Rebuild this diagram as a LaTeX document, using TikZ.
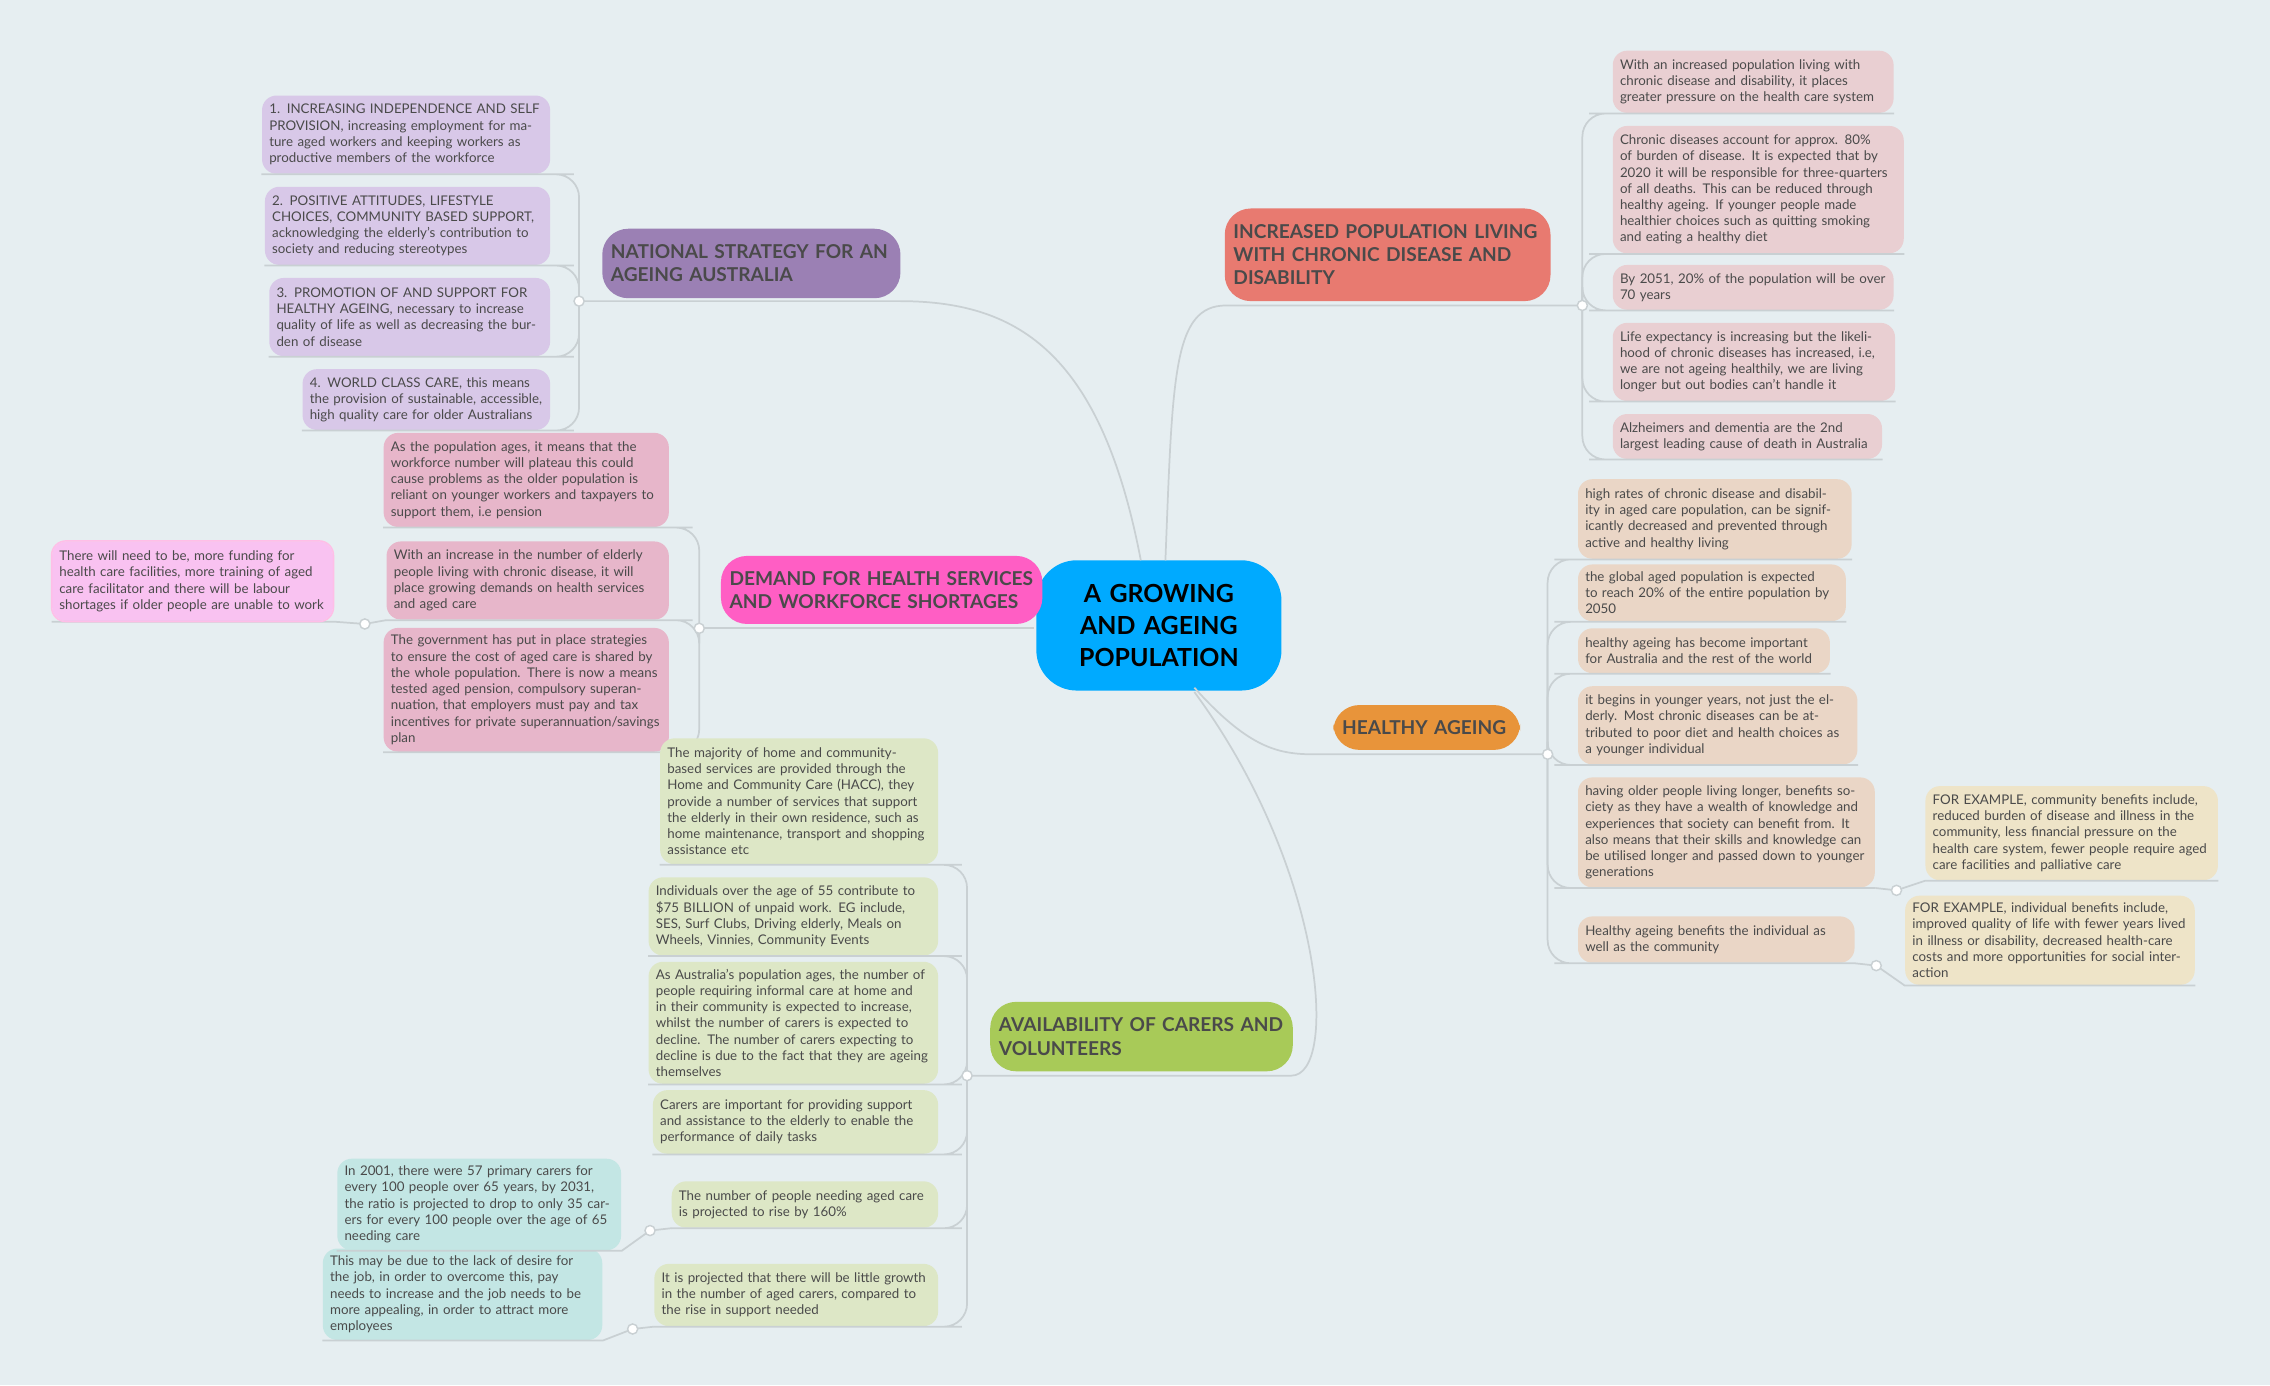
\documentclass[tikz,border=0pt]{standalone}
\usepackage{fontspec}
\setmainfont{Lato}
\usetikzlibrary{calc}
\definecolor{bg}{HTML}{E6EEF1}
\definecolor{ln}{HTML}{C9D0D3}
\definecolor{tx}{HTML}{4A4A4A}
\definecolor{cc}{HTML}{00AAFF}
\definecolor{pu}{HTML}{9B80B4}\definecolor{pul}{HTML}{D8C8E8}
\definecolor{re}{HTML}{E87A70}\definecolor{rel}{HTML}{E9CFD2}
\definecolor{pk}{HTML}{FF5EC4}\definecolor{pkl}{HTML}{E7B6CA}\definecolor{pkx}{HTML}{F9C2F1}
\definecolor{or}{HTML}{E8943A}\definecolor{orl}{HTML}{EAD6C6}\definecolor{ye}{HTML}{EEE4C8}
\definecolor{gr}{HTML}{A8CA58}\definecolor{grl}{HTML}{DDE7C6}\definecolor{te}{HTML}{C3E6E4}
\tikzset{
 leafbox/.style={rounded corners=5pt,inner sep=2.5pt,align=left,text=tx,font=\fontsize{4.6}{5.6}\selectfont},
 topic/.style={rounded corners=9pt,inner sep=3pt,align=left,text=tx,font=\bfseries\fontsize{6.6}{8}\selectfont},
 conn/.style={draw=ln,line width=0.6pt,rounded corners=8pt},
 junc/.style={circle,draw=ln,fill=white,line width=0.5pt,inner sep=0pt,minimum size=3.5pt}
}
\newcommand\mmbox[8]{\pgfmathsetmacro\tw{(#4-#2-10)*0.5}\pgfmathsetmacro\th{(#5-#3)*0.5}%
 \node[#8,fill=#6,text width=\tw pt,minimum height=\th pt] (#1) at ({(#2+#4)/2},{(#3+#5)/2}) {#7};}
\begin{document}
\begin{tikzpicture}[x=0.5pt,y=-0.5pt]
\fill[bg] (0,0) rectangle (1568,957);
\useasboundingbox (0,0) rectangle (1568,957);
% junctions
\coordinate (jn) at (400,208);
\coordinate (jc) at (1093,211);
\coordinate (jd) at (483,434);
\coordinate (jh) at (1069,521);
\coordinate (ja) at (668,743);
\coordinate (jx) at (252,431);
\coordinate (je) at (1310,615);
\coordinate (jf) at (1296,667);
\coordinate (jt1) at (449,850);
\coordinate (jt2) at (437,918);
% center
\node[rounded corners=14pt,fill=cc,text=black,align=center,font=\bfseries\fontsize{8.6}{11}\selectfont,text width=78pt,minimum height=45pt] (C) at (800.5,432) {A GROWING AND AGEING POPULATION};
% topics
\mmbox{ns}{417}{158}{621}{206}{pu}{NATIONAL STRATEGY FOR AN AGEING AUSTRALIA}{topic}
\mmbox{ip}{847}{144}{1070}{208}{re}{INCREASED POPULATION LIVING WITH CHRONIC DISEASE AND DISABILITY}{topic}
\mmbox{dm}{499}{384}{719}{431}{pk}{DEMAND FOR HEALTH SERVICES AND WORKFORCE SHORTAGES}{topic}
\mmbox{ha}{922}{487}{1049}{518}{or}{HEALTHY AGEING}{topic}
\mmbox{av}{685}{692}{892}{740}{gr}{AVAILABILITY OF CARERS AND VOLUNTEERS}{topic}
% main connectors
\draw[conn,rounded corners=0pt] (788,387) .. controls (760,240) and (700,208) .. (621,208) -- (jn);
\draw[conn,rounded corners=0pt] (805,387) .. controls (810,260) and (810,211) .. (847,211) -- (jc);
\draw[conn,rounded corners=0pt] (714,434) -- (jd);
\draw[conn,rounded corners=0pt] (825,475) .. controls (870,525) and (890,521) .. (922,521) -- (jh);
\draw[conn,rounded corners=0pt] (825,478) .. controls (915,600) and (925,743) .. (892,743) -- (ja);
\begin{scope}[on background layer/.style={}]\end{scope}
% national strategy leaves
\mmbox{n1}{181}{66}{380}{120}{pul}{1. INCREASING INDEPENDENCE AND SELF PROVISION, increasing employment for mature aged workers and keeping workers as productive members of the workforce}{leafbox}
\mmbox{n2}{183}{129}{380}{183}{pul}{2. POSITIVE ATTITUDES, LIFESTYLE CHOICES, COMMUNITY BASED SUPPORT, acknowledging the elderly's contribution to society and reducing stereotypes}{leafbox}
\mmbox{n3}{186}{192}{380}{246}{pul}{3. PROMOTION OF AND SUPPORT FOR HEALTHY AGEING, necessary to increase quality of life as well as decreasing the burden of disease}{leafbox}
\mmbox{n4}{209}{255}{380}{297}{pul}{4. WORLD CLASS CARE, this means the provision of sustainable, accessible, high quality care for older Australians}{leafbox}
\foreach \n in {n1,n2,n3,n4} \draw[conn] (jn) |- ($(\n.south east)+(0,0)$) -- (\n.south west);
% chronic leaves
\mmbox{c1}{1114}{35}{1308}{78}{rel}{With an increased population living with chronic disease and disability, it places greater pressure on the health care system}{leafbox}
\mmbox{c2}{1114}{87}{1315}{175}{rel}{Chronic diseases account for approx. 80\% of burden of disease. It is expected that by 2020 it will be responsible for three-quarters of all deaths. This can be reduced through healthy ageing. If younger people made healthier choices such as quitting smoking and eating a healthy diet}{leafbox}
\mmbox{c3}{1114}{183}{1308}{214}{rel}{By 2051, 20\% of the population will be over 70 years}{leafbox}
\mmbox{c4}{1114}{223}{1309}{277}{rel}{Life expectancy is increasing but the likelihood of chronic diseases has increased, i.e, we are not ageing healthily, we are living longer but out bodies can't handle it}{leafbox}
\mmbox{c5}{1114}{286}{1300}{317}{rel}{Alzheimers and dementia are the 2nd largest leading cause of death in Australia}{leafbox}
\foreach \n in {c1,c2,c3,c4,c5} \draw[conn] (jc) |- (\n.south west) -- (\n.south east);
% demand leaves
\mmbox{d1}{265}{299}{462}{364}{pkl}{As the population ages, it means that the workforce number will plateau this could cause problems as the older population is reliant on younger workers and taxpayers to support them, i.e pension}{leafbox}
\mmbox{d2}{267}{374}{462}{428}{pkl}{With an increase in the number of elderly people living with chronic disease, it will place growing demands on health services and aged care}{leafbox}
\mmbox{d3}{265}{438}{462}{515}{pkl}{The government has put in place strategies to ensure the cost of aged care is shared by the whole population. There is now a means tested aged pension, compulsory superannuation, that employers must pay and tax incentives for private superannuation/savings plan}{leafbox}
\foreach \n in {d1,d2,d3} \draw[conn] (jd) |- (\n.south east) -- (\n.south west);
\mmbox{dx}{36}{374}{230}{429}{pkx}{There will need to be, more funding for health care facilities, more training of aged care facilitator and there will be labour shortages if older people are unable to work}{leafbox}
\draw[conn,rounded corners=0pt] (d2.south west) -- (jx) -- (dx.south east) -- (dx.south west);
\draw[pk!40,line width=0.5pt,rounded corners=5pt] (dx.south west) rectangle (dx.north east);
% healthy ageing leaves
\mmbox{h1}{1090}{331}{1279}{386}{orl}{high rates of chronic disease and disability in aged care population, can be significantly decreased and prevented through active and healthy living}{leafbox}
\mmbox{h2}{1090}{394}{1275}{425}{orl}{the global aged population is expected to reach 20\% of the entire population by 2050}{leafbox}
\mmbox{h3}{1090}{434}{1264}{465}{orl}{healthy ageing has become important for Australia and the rest of the world}{leafbox}
\mmbox{h4}{1090}{474}{1283}{528}{orl}{it begins in younger years, not just the elderly. Most chronic diseases can be attributed to poor diet and health choices as a younger individual}{leafbox}
\mmbox{h5}{1090}{537}{1295}{613}{orl}{having older people living longer, benefits society as they have a wealth of knowledge and experiences that society can benefit from. It also means that their skills and knowledge can be utilised longer and passed down to younger generations}{leafbox}
\mmbox{h6}{1090}{633}{1281}{665}{orl}{Healthy ageing benefits the individual as well as the community}{leafbox}
\foreach \n in {h1,h2,h3,h4,h5,h6} \draw[conn] (jh) |- (\n.south west) -- (\n.south east);
\mmbox{e1}{1330}{543}{1532}{608}{ye}{FOR EXAMPLE, community benefits include, reduced burden of disease and illness in the community, less financial pressure on the health care system, fewer people require aged care facilities and palliative care}{leafbox}
\mmbox{e2}{1316}{622}{1516}{677}{ye}{FOR EXAMPLE, individual benefits include, improved quality of life with fewer years lived in illness or disability, decreased health-care costs and more opportunities for social interaction}{leafbox}
\draw[conn,rounded corners=0pt] (h5.south east) -- (je) -- (e1.south west) -- (e1.south east);
\draw[conn,rounded corners=0pt] (h6.south east) -- (jf) -- (e2.south west) -- (e2.south east);
% availability leaves
\mmbox{g1}{456}{510}{648}{597}{grl}{The majority of home and community-based services are provided through the Home and Community Care (HACC), they provide a number of services that support the elderly in their own residence, such as home maintenance, transport and shopping assistance etc}{leafbox}
\mmbox{g2}{448}{606}{648}{660}{grl}{Individuals over the age of 55 contribute to \$75 BILLION of unpaid work. EG include, SES, Surf Clubs, Driving elderly, Meals on Wheels, Vinnies, Community Events}{leafbox}
\mmbox{g3}{448}{668}{648}{745}{grl}{As Australia's population ages, the number of people requiring informal care at home and in their community is expected to increase, whilst the number of carers is expected to decline. The number of carers expecting to decline is due to the fact that they are ageing themselves}{leafbox}
\mmbox{g4}{451}{753}{648}{797}{grl}{Carers are important for providing support and assistance to the elderly to enable the performance of daily tasks}{leafbox}
\mmbox{g5}{464}{816}{648}{848}{grl}{The number of people needing aged care is projected to rise by 160\%}{leafbox}
\mmbox{g6}{452}{873}{648}{916}{grl}{It is projected that there will be little growth in the number of aged carers, compared to the rise in support needed}{leafbox}
\foreach \n in {g1,g2,g3,g4,g5,g6} \draw[conn] (ja) |- (\n.south east) -- (\n.south west);
\mmbox{t1}{233}{805}{429}{859}{te}{In 2001, there were 57 primary carers for every 100 people over 65 years, by 2031, the ratio is projected to drop to only 35 carers for every 100 people over the age of 65 needing care}{leafbox}
\mmbox{t2}{223}{867}{416}{921}{te}{This may be due to the lack of desire for the job, in order to overcome this, pay needs to increase and the job needs to be more appealing, in order to attract more employees}{leafbox}
\draw[conn,rounded corners=0pt] (g5.south west) -- (jt1) -- (t1.south east) -- (t1.south west);
\draw[conn,rounded corners=0pt] (g6.south west) -- (jt2) -- (t2.south east) -- (t2.south west);
% junction circles
\foreach \j in {jn,jc,jd,jh,ja,jx,je,jf,jt1,jt2} \node[junc] at (\j) {};
\end{tikzpicture}
\end{document}
